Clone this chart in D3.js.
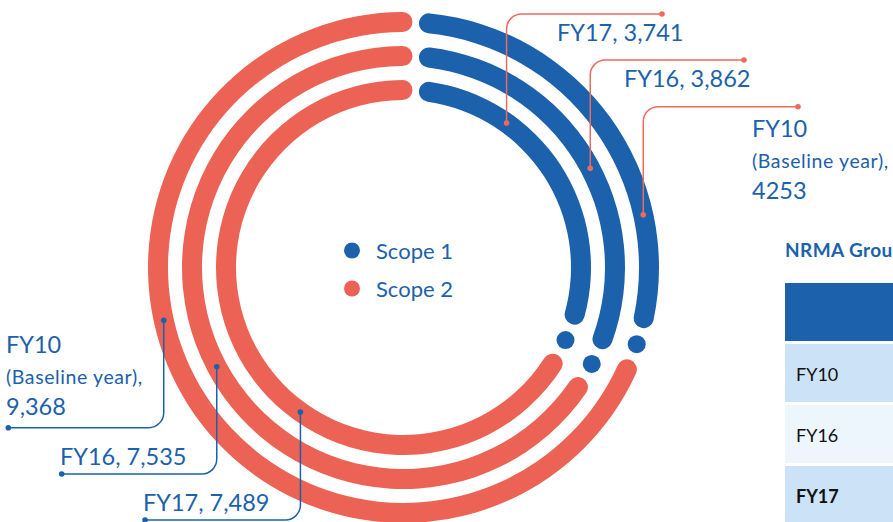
<!DOCTYPE html>
<html lang="en">
<head>
  <meta charset="utf-8">
  <title>NRMA Group emissions</title>
  <script src="https://d3js.org/d3.v7.min.js"></script>
  <style>
    body { margin: 0; background: #fff; }
    svg { display: block; font-family: Lato, "Open Sans", sans-serif; }
  </style>
</head>
<body>
<script>
// data
var years = ["FY10", "FY16", "FY17"];
var scope1 = [4253, 3862, 3741];
var scope2 = [9368, 7535, 7489];
var scope1Labels = ["FY10", "FY16, 3,862", "FY17, 3,741"];
var scope2Labels = ["FY10", "FY16, 7,535", "FY17, 7,489"];
var scope1Values = ["4253", "3,862", "3,741"];
var scope2Values = ["9,368", "7,535", "7,489"];
var legendNames = ["Scope 1", "Scope 2"];
var tableRows = ["FY10", "FY16", "FY17"];

var w = 893, h = 522;
var blue = "#1c61ac", red = "#ec6254";
var cx = 403.5, cy = 267.5, band = 20;

var svg = d3.select("body").append("svg")
  .attr("width", w).attr("height", h);

// rings: inner = FY17, outer = FY10
var rScale = d3.scalePoint()
  .domain(["FY17", "FY16", "FY10"])
  .range([177.5, 245.5]);

var ringArc = d3.arc().cornerRadius(band / 2);
var g = svg.append("g").attr("transform", "translate(" + cx + "," + cy + ")");

years.forEach(function(y, i) {
  var r = rScale(y);
  var a = d3.scaleLinear().domain([0, scope1[i] + scope2[i]]).range([0, 2 * Math.PI]);
  var split = a(scope1[i]);
  var px = function(p) { return p / r; };   // pixel offset -> angle on this ring

  ringArc.innerRadius(r - band / 2).outerRadius(r + band / 2);

  g.append("path")
    .attr("d", ringArc({startAngle: px(15.5), endAngle: split - px(35)}))
    .attr("fill", blue);

  var dotA = split - px(18);
  g.append("circle")
    .attr("cx", r * Math.sin(dotA))
    .attr("cy", -r * Math.cos(dotA))
    .attr("r", 9)
    .attr("fill", blue);

  g.append("path")
    .attr("d", ringArc({startAngle: split - px(1), endAngle: 2 * Math.PI + px(9)}))
    .attr("fill", red);
});

// leader lines
var anchorAngle = {FY17: 35.5, FY16: 62, FY10: 77.6};
function onRing(y, deg) {
  var t = deg * Math.PI / 180, r = rScale(y);
  return [cx + r * Math.sin(t), cy - r * Math.cos(t)];
}

// scope 1 labels (top right), line goes up then right
var s1Layout = {
  FY17: {lineY: 14, endX: 662, tx: 557, ty: 41},
  FY16: {lineY: 60, endX: 744, tx: 624, ty: 87},
  FY10: {lineY: 106.7, endX: 798, tx: 752, ty: 137}
};
// scope 2 labels (bottom left), line goes down then left
var s2Layout = {
  FY10: {lineY: 427.7, endX: 8.3, tx: 6, ty: 353},
  FY16: {lineY: 474, endX: 61.7, tx: 60, ty: 465},
  FY17: {lineY: 520, endX: 145, tx: 143, ty: 511}
};

var cr = 15;
years.forEach(function(y, i) {
  // scope 1
  var p0 = onRing(y, anchorAngle[y]);
  var L = s1Layout[y];
  var p = d3.path();
  p.moveTo(p0[0], p0[1]);
  p.lineTo(p0[0], L.lineY + cr);
  p.arcTo(p0[0], L.lineY, p0[0] + cr, L.lineY, cr);
  p.lineTo(L.endX, L.lineY);
  svg.append("path").attr("d", p.toString())
    .attr("fill", "none").attr("stroke", "#ee6a5d").attr("stroke-width", 1.5);
  svg.append("circle").attr("cx", p0[0]).attr("cy", p0[1]).attr("r", 2.8).attr("fill", "#ee6a5d");
  svg.append("circle").attr("cx", L.endX).attr("cy", L.lineY).attr("r", 2.8).attr("fill", "#ee6a5d");

  // scope 2
  var q0 = onRing(y, 180 + anchorAngle[y]);
  var M = s2Layout[y];
  var q = d3.path();
  q.moveTo(q0[0], q0[1]);
  q.lineTo(q0[0], M.lineY - cr);
  q.arcTo(q0[0], M.lineY, q0[0] - cr, M.lineY, cr);
  q.lineTo(M.endX, M.lineY);
  svg.append("path").attr("d", q.toString())
    .attr("fill", "none").attr("stroke", blue).attr("stroke-width", 1.5);
  svg.append("circle").attr("cx", q0[0]).attr("cy", q0[1]).attr("r", 2.8).attr("fill", blue);
  svg.append("circle").attr("cx", M.endX).attr("cy", M.lineY).attr("r", 2.8).attr("fill", blue);
});

// label texts
function label(L, main, value, isBase) {
  svg.append("text").attr("x", L.tx).attr("y", L.ty)
    .attr("fill", blue).attr("font-size", 23.5).text(main);
  if (isBase) {
    svg.append("text").attr("x", L.tx).attr("y", L.ty + 31)
      .attr("fill", blue).attr("font-size", 19.5).attr("letter-spacing", 0.6)
      .text("(Baseline year),");
    svg.append("text").attr("x", L.tx).attr("y", L.ty + 62)
      .attr("fill", blue).attr("font-size", 23.5).text(value);
  }
}
years.forEach(function(y, i) {
  label(s1Layout[y], scope1Labels[i], scope1Values[i], y === "FY10");
  label(s2Layout[y], scope2Labels[i], scope2Values[i], y === "FY10");
});

// legend
var legendColor = d3.scaleOrdinal().domain(legendNames).range([blue, red]);
var leg = svg.append("g").selectAll("g")
  .data(legendNames).enter().append("g")
  .attr("transform", function(d, i) { return "translate(352," + (250.5 + i * 38) + ")"; });
leg.append("circle").attr("r", 8).attr("fill", function(d) { return legendColor(d); });
leg.append("text").attr("x", 24).attr("y", 8)
  .attr("fill", blue).attr("font-size", 22).text(function(d) { return d; });

// table (cut off at the right edge, as in the source)
svg.append("text").attr("x", 785).attr("y", 257)
  .attr("fill", blue).attr("font-size", 19).attr("font-weight", "bold")
  .attr("letter-spacing", 0.4)
  .text("NRMA Group");
svg.append("rect").attr("x", 785).attr("y", 283).attr("width", 120).attr("height", 58)
  .attr("fill", blue);
var rowFill = ["#cce2f6", "#edf5fd", "#cce2f6"];
var rowY = d3.scaleBand().domain(tableRows).range([344, 524]).paddingInner(0.05);
tableRows.forEach(function(t, i) {
  svg.append("rect").attr("x", 785).attr("y", rowY(t))
    .attr("width", 120).attr("height", rowY.bandwidth()).attr("fill", rowFill[i]);
  svg.append("text").attr("x", 796).attr("y", rowY(t) + 37)
    .attr("font-size", 18).attr("fill", "#111")
    .attr("font-weight", t === "FY17" ? "bold" : "normal").text(t);
});
</script>
</body>
</html>
